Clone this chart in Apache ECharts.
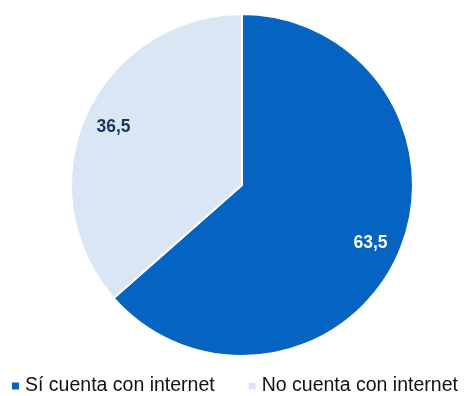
<!DOCTYPE html>
<html>
<head>
<meta charset="utf-8">
<script src="https://cdn.jsdelivr.net/npm/echarts@6/dist/echarts.min.js"></script>
<style>
  html, body { margin: 0; padding: 0; background: #fff; }
  #chart { width: 464px; height: 396px; }
</style>
</head>
<body>
<div id="chart"></div>
<script>
// datos del gráfico
var categorias = ['Sí cuenta con internet', 'No cuenta con internet'];
var valores = [63.5, 36.5];
var colores = ['#0563C1', '#DAE6F4'];
var coloresEtiqueta = ['#FFFFFF', '#17375E'];

var chart = echarts.init(document.getElementById('chart'), null, { renderer: 'canvas' });

var datos = categorias.map(function (c, i) {
  return { name: c, value: valores[i], itemStyle: { color: colores[i] } };
});
var etiquetas = categorias.map(function (c, i) {
  return {
    name: c, value: valores[i],
    label: { color: coloresEtiqueta[i] }
  };
});

var option = {
  animation: false,
  legend: {
    top: 376,
    left: 10,
    padding: 0,
    itemWidth: 9,
    itemHeight: 9,
    itemGap: 32,
    icon: 'rect',
    textStyle: { fontFamily: 'Liberation Sans, Arial', fontSize: 19.5, color: '#111' },
    data: categorias
  },
  series: [
    {
      type: 'pie',
      center: [242, 185],
      radius: [0, 171],
      startAngle: 90,
      label: { show: false },
      labelLine: { show: false },
      itemStyle: { borderColor: '#fff', borderWidth: 2 },
      emphasis: { disabled: true },
      data: datos
    },
    {
      // capa solo para colocar las etiquetas más hacia el borde
      type: 'pie',
      center: [242, 185],
      radius: [105, 171],
      startAngle: 90,
      silent: true,
      itemStyle: { color: 'rgba(0,0,0,0)', borderWidth: 0 },
      label: {
        show: true,
        position: 'inside',
        fontFamily: 'Liberation Sans, Arial',
        fontWeight: 'bold',
        fontSize: 17.5,
        formatter: function (p) { return p.value.toFixed(1).replace('.', ','); }
      },
      labelLine: { show: false },
      emphasis: { disabled: true },
      data: etiquetas
    }
  ]
};

chart.setOption(option);
</script>
</body>
</html>
